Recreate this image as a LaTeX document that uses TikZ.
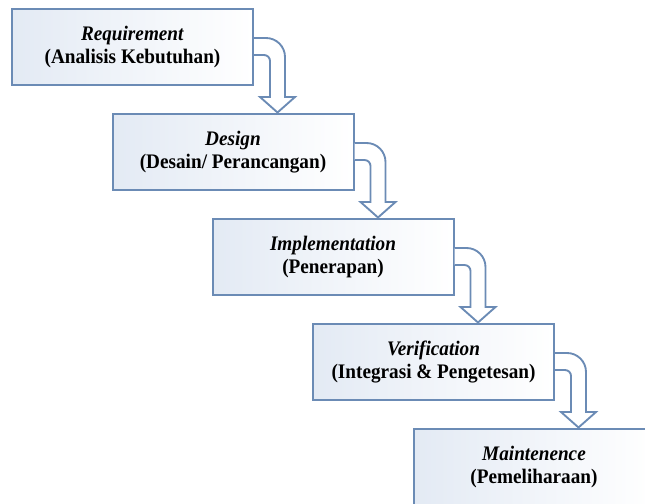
\documentclass[tikz,border=0pt]{standalone}
\usepackage{fontspec}
\setmainfont[FakeStretch=0.93]{Liberation Serif}
\usetikzlibrary{calc}
\definecolor{edge}{HTML}{6B8BB5}
\definecolor{boxshade}{HTML}{E3EAF4}
\tikzset{
  stage/.style={draw=edge, line width=1.5pt, left color=boxshade, right color=white,
    minimum width=180.75pt, minimum height=57pt, inner sep=0pt, align=center,
    font=\fontsize{15.5}{17}\selectfont\bfseries},
  flow/.style={draw=edge, line width=1.4pt, fill=white, line join=miter}
}
\newcommand{\bentarrow}[1]{%
\begin{scope}[shift={(#1.north east)}]
\filldraw[flow] (0,30) -- (12,30) .. controls (22.5,30) and (31,38.5) .. (31,49)
  -- (31,89) -- (41,89) -- (23.5,104.5) -- (6,89) -- (16,89) -- (16,53)
  .. controls (16,49.7) and (13.3,47) .. (10,47) -- (0,47);
\end{scope}}
\begin{document}
\begin{tikzpicture}[x=0.75pt,y=-0.75pt]
\clip (0,0) rectangle (645,503);
\node[stage] (req) at (132.5,47) {\textit{Requirement}\\(Analisis Kebutuhan)};
\node[stage] (des) at (233,152) {\textit{Design}\\(Desain/ Perancangan)};
\node[stage] (imp) at (333,257) {\textit{Implementation}\\(Penerapan)};
\node[stage] (ver) at (433.5,362) {\textit{Verification}\\(Integrasi \& Pengetesan)};
\node[stage] (mai) at (534,467) {\textit{Maintenence}\\(Pemeliharaan)};
\bentarrow{req}
\bentarrow{des}
\bentarrow{imp}
\bentarrow{ver}
\end{tikzpicture}
\end{document}
